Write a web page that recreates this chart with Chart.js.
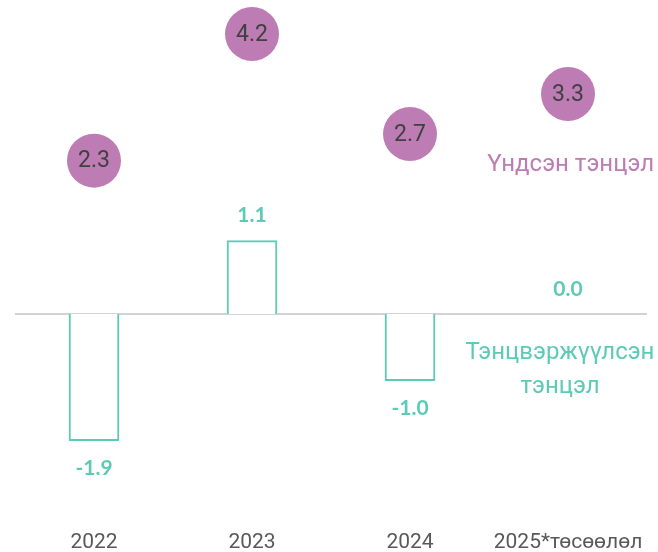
<!DOCTYPE html>
<html>
<head>
<meta charset="utf-8">
<script src="https://cdn.jsdelivr.net/npm/chart.js@4"></script>
<style>
  body { margin: 0; background: #fff; }
  #wrap { width: 658px; height: 552px; }
</style>
</head>
<body>
<div id="wrap"><canvas id="myChart"></canvas></div>
<script>
const years = ['2022', '2023', '2024', '2025*төсөөлөл'];
const balanced = [-1.9, 1.1, -1.0, 0.0];   // Тэнцвэржүүлсэн тэнцэл
const primary = [2.3, 4.2, 2.7, 3.3];      // Үндсэн тэнцэл

const teal = '#5ccbb6';
const purple = '#bd7cb4';
const narrow = 'Roboto, sans-serif';

// zero line, labels on bubbles, bar values and the two series names
const labelPlugin = {
    id: 'labels',
    beforeDatasetsDraw(chart) {
        const ctx = chart.ctx;
        const y = chart.scales.y;
        const area = chart.chartArea;
        const y0 = y.getPixelForValue(0);
        ctx.save();
        ctx.strokeStyle = '#d3d3d3';
        ctx.lineWidth = 2;
        ctx.beginPath();
        ctx.moveTo(area.left, y0);
        ctx.lineTo(area.right, y0);
        ctx.stroke();
        ctx.restore();
    },
    afterDatasetsDraw(chart) {
        const ctx = chart.ctx;
        ctx.save();
        ctx.textAlign = 'center';
        ctx.textBaseline = 'middle';

        // bar values
        const bars = chart.getDatasetMeta(0).data;
        ctx.fillStyle = teal;
        ctx.font = 'bold 21px Lato, sans-serif';
        bars.forEach((bar, i) => {
            const v = balanced[i];
            const yy = v >= 0 ? bar.y - 25 : bar.y + 28;
            ctx.fillText(v.toFixed(1), bar.x, yy);
        });

        // bubble values
        const pts = chart.getDatasetMeta(1).data;
        ctx.fillStyle = '#404040';
        ctx.font = '23px ' + narrow;
        pts.forEach((p, i) => {
            ctx.fillText(primary[i].toFixed(1), p.x, p.y + 1);
        });

        // series names
        const x = chart.scales.x;
        const xLast = x.getPixelForValue(3);
        ctx.font = '24px ' + narrow;
        ctx.fillStyle = purple;
        ctx.textAlign = 'right';
        ctx.fillText('Үндсэн тэнцэл', 654, 165);
        ctx.fillStyle = teal;
        ctx.textAlign = 'center';
        ctx.fillText('Тэнцвэржүүлсэн', xLast - 8, 353);
        ctx.fillText('тэнцэл', xLast - 8, 387);
        ctx.restore();
    }
};

const ctx = document.getElementById('myChart').getContext('2d');
const myChart = new Chart(ctx, {
    type: 'bar',
    data: {
        labels: years,
        datasets: [{
            label: 'Тэнцвэржүүлсэн тэнцэл',
            data: balanced,
            backgroundColor: '#ffffff',
            borderColor: teal,
            borderWidth: 2,
            barThickness: 50,
            order: 2
        },
        {
            type: 'line',
            label: 'Үндсэн тэнцэл',
            data: primary,
            showLine: false,
            clip: false,
            pointRadius: 27,
            pointHoverRadius: 27,
            pointBackgroundColor: purple,
            pointBorderWidth: 0,
            order: 1
        }]
    },
    options: {
        responsive: true,
        maintainAspectRatio: false,
        animation: false,
        layout: { autoPadding: false, padding: { left: 15, right: 11, top: 0, bottom: -7 } },
        plugins: {
            legend: { display: false },
            tooltip: { enabled: false }
        },
        scales: {
            x: {
                grid: { display: false, drawTicks: false },
                border: { display: false },
                ticks: {
                    color: '#595959',
                    padding: 6,
                    maxRotation: 0,
                    minRotation: 0,
                    autoSkip: false,
                    font: { family: narrow, size: 21, lineHeight: 1 }
                }
            },
            y: {
                display: false,
                min: -3.18,
                max: 4.71
            }
        }
    },
    plugins: [labelPlugin]
});
</script>
</body>
</html>
